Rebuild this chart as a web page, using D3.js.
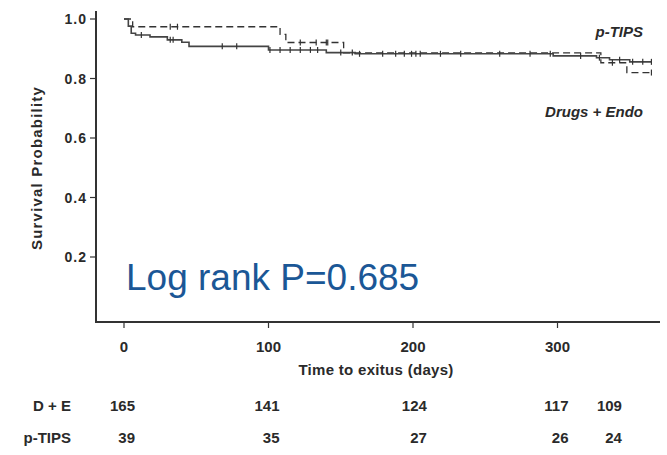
<!DOCTYPE html>
<html>
<head>
<meta charset="utf-8">
<script src="https://cdn.jsdelivr.net/npm/d3@7"></script>
<style>
  body { margin: 0; background: #fff; }
  svg { font-family: "Liberation Sans", Arial, sans-serif; }
</style>
</head>
<body>
<svg id="canvas"></svg>
<script>
// Kaplan-Meier steps
const deTimes = [0, 3, 5, 8, 18, 30, 40, 45, 100, 140, 160, 297, 327, 336, 350];
const deSurv = [1.0, 0.976, 0.952, 0.946, 0.94, 0.93, 0.922, 0.908, 0.896, 0.887, 0.883, 0.876, 0.87, 0.863, 0.856];
const deCensor = [12, 32, 34, 68, 78, 101, 108, 115, 122, 129, 134, 150, 158, 163, 179, 188, 194, 199, 202, 205, 219, 233, 260, 281, 295, 316, 329, 343, 352, 359, 365];

const ptTimes = [0, 6, 108, 112, 152, 330, 348];
const ptSurv = [1.0, 0.974, 0.948, 0.921, 0.886, 0.853, 0.82];
const ptCensor = [32, 37, 122, 133, 140, 141, 338, 365];

const endDay = 365;
const yTicks = [0.2, 0.4, 0.6, 0.8, 1.0];
const xTicks = [0, 100, 200, 300];

const riskDays = [0, 100, 202, 300, 337];
const riskDE = [165, 141, 124, 117, 109];
const riskPT = [39, 35, 27, 26, 24];

const width = 667;
const height = 455;

const svg = d3.select("#canvas").attr("width", width).attr("height", height);

const x = d3.scaleLinear().domain([0, 100]).range([124, 268.5]);
const y = d3.scaleLinear().domain([0, 1]).range([316.5, 19]);
const axisColor = "#333";
const textColor = "#2a2a2a";

// axes lines
svg.append("line")
  .attr("x1", 96).attr("x2", 96).attr("y1", 11).attr("y2", 323)
  .attr("stroke", axisColor).attr("stroke-width", 2);
svg.append("line")
  .attr("x1", 95).attr("x2", 660).attr("y1", 322).attr("y2", 322)
  .attr("stroke", axisColor).attr("stroke-width", 2);

// y ticks
svg.selectAll(".ytick")
  .data(yTicks)
  .enter()
  .append("line")
  .attr("x1", 90).attr("x2", 96)
  .attr("y1", (d) => y(d)).attr("y2", (d) => y(d))
  .attr("stroke", axisColor).attr("stroke-width", 1.2);
svg.selectAll(".ylab")
  .data(yTicks)
  .enter()
  .append("text")
  .attr("x", 87)
  .attr("y", (d) => y(d) + 5)
  .attr("text-anchor", "end")
  .style("font-size", "14px")
  .style("font-weight", "bold")
  .style("letter-spacing", "1px")
  .attr("fill", textColor)
  .text((d) => d.toFixed(1));

// x ticks
svg.selectAll(".xtick")
  .data(xTicks)
  .enter()
  .append("line")
  .attr("x1", (d) => x(d)).attr("x2", (d) => x(d))
  .attr("y1", 322).attr("y2", 328)
  .attr("stroke", axisColor).attr("stroke-width", 1.2);
svg.selectAll(".xlab")
  .data(xTicks)
  .enter()
  .append("text")
  .attr("x", (d) => x(d))
  .attr("y", 352)
  .attr("text-anchor", "middle")
  .style("font-size", "15px")
  .style("font-weight", "bold")
  .attr("fill", textColor)
  .text((d) => d);

svg.append("text")
  .attr("x", 376).attr("y", 375)
  .attr("text-anchor", "middle")
  .style("font-size", "15px")
  .style("font-weight", "bold")
  .style("letter-spacing", "0.3px")
  .attr("fill", textColor)
  .text("Time to exitus (days)");

svg.append("text")
  .attr("transform", "translate(42,168) rotate(-90)")
  .attr("text-anchor", "middle")
  .style("font-size", "15px")
  .style("font-weight", "bold")
  .style("letter-spacing", "1.2px")
  .attr("fill", textColor)
  .text("Survival Probability");

// curves
const toPoints = (times, surv) => {
  let pts = times.map((t, i) => [t, surv[i]]);
  pts.push([endDay, surv[surv.length - 1]]);
  return pts;
};
const survAt = (times, surv, t) => {
  let s = surv[0];
  times.forEach((tt, i) => {
    if (tt <= t) s = surv[i];
  });
  return s;
};

const line = d3.line()
  .x((d) => x(d[0]))
  .y((d) => y(d[1]))
  .curve(d3.curveStepAfter);

svg.append("path")
  .attr("d", line(toPoints(ptTimes, ptSurv)))
  .attr("fill", "none")
  .attr("stroke", "#333")
  .attr("stroke-width", 1.3)
  .attr("stroke-dasharray", "7,4");

svg.append("path")
  .attr("d", line(toPoints(deTimes, deSurv)))
  .attr("fill", "none")
  .attr("stroke", "#444")
  .attr("stroke-width", 1.6);

svg.selectAll(".cde")
  .data(deCensor)
  .enter()
  .append("line")
  .attr("x1", (d) => x(d)).attr("x2", (d) => x(d))
  .attr("y1", (d) => y(survAt(deTimes, deSurv, d)) - 3)
  .attr("y2", (d) => y(survAt(deTimes, deSurv, d)) + 3)
  .attr("stroke", "#333").attr("stroke-width", 1.2);

svg.selectAll(".cpt")
  .data(ptCensor)
  .enter()
  .append("line")
  .attr("x1", (d) => x(d)).attr("x2", (d) => x(d))
  .attr("y1", (d) => y(survAt(ptTimes, ptSurv, d)) - 3)
  .attr("y2", (d) => y(survAt(ptTimes, ptSurv, d)) + 3)
  .attr("stroke", "#333").attr("stroke-width", 1.2);

// group labels
svg.append("text")
  .attr("x", 643).attr("y", 37)
  .attr("text-anchor", "end")
  .style("font-size", "15px")
  .style("font-weight", "bold")
  .style("font-style", "italic")
  .attr("fill", textColor)
  .text("p-TIPS");
svg.append("text")
  .attr("x", 643).attr("y", 117)
  .attr("text-anchor", "end")
  .style("font-size", "15px")
  .style("font-weight", "bold")
  .style("font-style", "italic")
  .attr("fill", textColor)
  .text("Drugs + Endo");

svg.append("text")
  .attr("x", 126).attr("y", 290)
  .style("font-size", "37px")
  .attr("fill", "#1b5796")
  .text("Log rank P=0.685");

// numbers at risk
const rows = [
  { name: "D + E", values: riskDE, yPos: 411 },
  { name: "p-TIPS", values: riskPT, yPos: 443 },
];
rows.forEach((row) => {
  svg.append("text")
    .attr("x", 71).attr("y", row.yPos)
    .attr("text-anchor", "end")
    .style("font-size", "15px")
    .style("font-weight", "bold")
    .attr("fill", textColor)
    .text(row.name);
  svg.selectAll(null)
    .data(row.values)
    .enter()
    .append("text")
    .attr("x", (d, i) => x(riskDays[i]) + 11)
    .attr("y", row.yPos)
    .attr("text-anchor", "end")
    .style("font-size", "15px")
    .style("font-weight", "bold")
    .attr("fill", textColor)
    .text((d) => d);
});
</script>
</body>
</html>
